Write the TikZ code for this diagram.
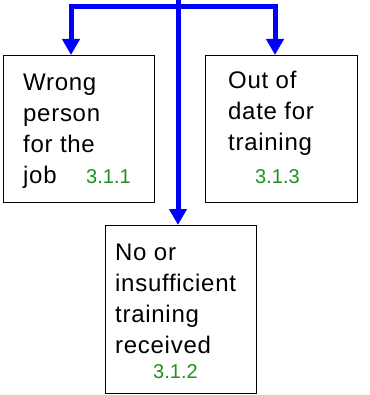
\documentclass[tikz,border=0pt]{standalone}
\usepackage{fontspec}
\setmainfont{Liberation Sans}
\newfontfamily\causefont[LetterSpace=3]{Liberation Sans}
\usetikzlibrary{arrows.meta}
\def\gprgb#1#2#3{rgb,255:red,#1;green,#2;blue,#3}

\begin{document}
\begin{tikzpicture}[x=1pt,y=-1pt,
  flow/.style={draw=\gprgb{0}{0}{255},line width=5pt,-{Triangle[width=17pt,length=16pt]}},
  causebox/.style={draw=black,line width=1.3pt,inner sep=0pt,anchor=north west},
  causetext/.style={anchor=north west,inner sep=0pt,align=left,font=\causefont\fontsize{24}{31}\selectfont},
  refno/.style={anchor=base west,inner sep=0pt,text=\gprgb{30}{145}{30},font=\fontsize{20}{24}\selectfont}]
\useasboundingbox (0,0) rectangle (369,395);

% Draw the nodes...
\node (wrong) at (3,55) [causebox,minimum width=151pt,minimum height=147pt] {};
\node (outdate) at (205,55) [causebox,minimum width=152pt,minimum height=147pt] {};
\node (noins) at (105,225) [causebox,minimum width=151pt,minimum height=168pt] {};

\node (wrongtxt) at (23,68.3) [causetext] {\strut Wrong\\person\\for the\\job};
\node (outdatetxt) at (228,66.3) [causetext] {\strut Out of\\date for\\training};
\node (noinstxt) at (115,238.3) [causetext] {\strut No or\\insufficient\\training\\received};

\node (wrongno) at (86,183) [refno] {3.1.1};
\node (outdateno) at (255,183) [refno] {3.1.3};
\node (noinsno) at (153,378) [refno] {3.1.2};

\coordinate (top) at (178,0);
\coordinate (split) at (178,7);

% Draw the edges...
\draw[flow] (split) -| (wrong.north -| 71,0);
\draw[flow] (split) -| (outdate.north -| 275,0);
\draw[flow] (top) -- (noins.north -| 178,0);

\end{tikzpicture}
\end{document}
